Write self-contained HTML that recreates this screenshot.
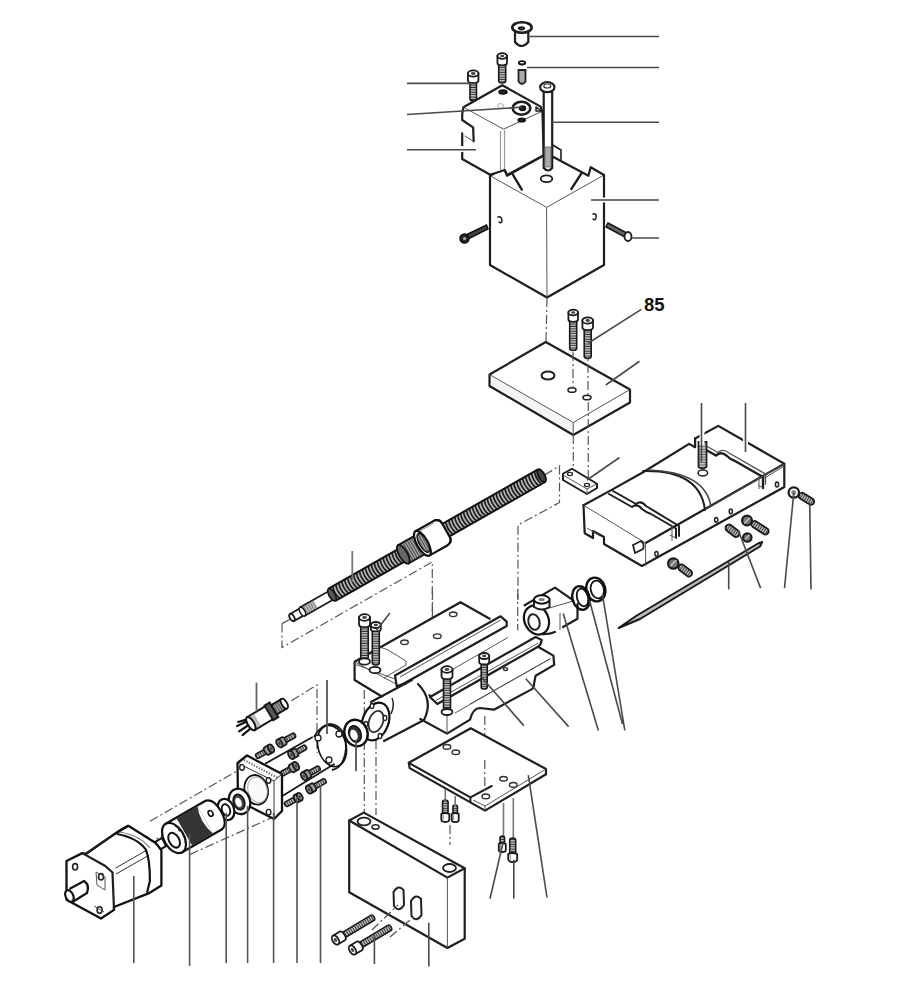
<!DOCTYPE html>
<html><head><meta charset="utf-8">
<style>
html,body{margin:0;padding:0;background:#fff;}
body{width:904px;height:1000px;overflow:hidden;}
svg{display:block;}

.o{fill:#fff;stroke:#1e1e1e;stroke-width:2.2;stroke-linejoin:round;stroke-linecap:round;}
.g{fill:#f1f1f1;stroke:#1e1e1e;stroke-width:2.2;stroke-linejoin:round;stroke-linecap:round;}
.t{fill:none;stroke:#555;stroke-width:1;}
.l{fill:none;stroke:#4a4a4a;stroke-width:1.6;}
.d{fill:none;stroke:#555;stroke-width:1.2;stroke-dasharray:9 3 2 3;}
.k{fill:#333;stroke:#111;stroke-width:1.5;}
text{font-family:"Liberation Sans",sans-serif;font-weight:bold;}
</style></head>
<body>
<svg width="904" height="1000" viewBox="0 0 904 1000">
<!-- ============ TOP ASSEMBLY ============ -->
<g id="top">
  <!-- big block -->
  <path d="M490,175.7 L546.6,207.4 L604,175 L604,265 L547,297.5 L490,265 Z" fill="#fff"/>
  <path class="o" style="fill:none" d="M490,175.7 L490,265 L547,297.5 L604,265 L604,175"/>
  <path class="t" d="M490,175.7 L546.6,207.4 L604,175 M546.6,207.4 L547,297.5"/>
  <path class="o" style="fill:none" d="M490,175.7 L504,168 L507,175.7 L543.5,155.5 M552,156.3 L588.4,175.7 L590.7,167.2 L604,175"/>
  <path class="o" style="fill:none;stroke-width:1.6" d="M551,144 L561,150 L561,159.4"/>
  <path class="o" style="fill:none;stroke-width:2.4" d="M512.5,174 L521.8,189.6 M581.4,173.4 L571.4,188.9"/>
  <ellipse class="o" cx="546.5" cy="178.8" rx="5.8" ry="3.4" style="stroke-width:1.8"/>
  <path class="o" style="stroke-width:1.5" d="M498,217 Q502,216 502,221 Q501,224 499,222"/>
  <path class="o" style="stroke-width:1.5" d="M593,214 Q597,213 596,218 Q595,221 593,219"/>
  <!-- side screws -->
  <path class="k" d="M467,234.5 L486.5,225 L488,229 L469,238.5 Z" style="fill:#444"/>
  <ellipse class="k" cx="464.5" cy="238.5" rx="4.5" ry="4.5" style="fill:#222"/>
  <ellipse cx="464.5" cy="238.5" rx="1.6" ry="1.6" fill="#aaa"/>
  <path class="k" d="M608,223 L626,232.5 L624,236.5 L606,227 Z" style="fill:#666"/>
  <ellipse class="o" cx="628" cy="236.5" rx="3.5" ry="4.5" style="stroke-width:1.8"/>
  <!-- small block -->
  <path d="M502.3,85.3 L540.7,106.6 L542.5,112.7 L543.7,155.3 L507,175 L504.8,170 L490.2,174.8 L462.2,159 L462.2,133.4 L473.7,141.3 L473.1,127.3 L462.2,120 L462.2,114 L463.4,107.2 Z" fill="#fff"/>
  <path class="o" style="fill:none" d="M473.7,141.3 L473.1,127.3 L462.2,120 L462.2,114 L463.4,107.2 L502.3,85.3 L540.7,106.6 L542.5,112.7 L543.7,155.3 L507,175 L504.8,170 L490.2,174.8 L462.2,159 L462.2,133.4"/>
  <path class="t" d="M463.4,107.2 L503.5,129.2 L542.5,111 M473.1,141 L464.6,135.8"/>
  <path class="t" style="stroke:#999;stroke-width:1.2" d="M500.5,131 L500.5,170 M504.5,130 L504.5,169"/>
  <path style="fill:none;stroke:#fff;stroke-width:3" d="M462.2,146 L462.2,152"/>
  <ellipse class="k" cx="503" cy="92" rx="4" ry="1.9" style="fill:#222"/>
  <ellipse class="o" cx="521.5" cy="108.2" rx="8.8" ry="6.5" style="stroke-width:2.6"/>
  <ellipse class="k" cx="522.5" cy="108.3" rx="3" ry="2.3" style="fill:#222"/>
  <ellipse class="k" cx="521.7" cy="120" rx="3.6" ry="1.8" style="fill:#222"/>
  <ellipse cx="500.5" cy="106" rx="3" ry="2.4" fill="none" stroke="#aaa" stroke-width="1"/>
  <path class="o" style="stroke-width:1.5" d="M536,107 L542,111 L536,111 Z"/>
  <!-- long bolt -->
  <path class="o" d="M543.7,92 L543.7,168 Q548,173 552.2,168 L552.2,92 Z"/>
  <path d="M545,147 L551,147 L551,167 L545,167 Z" fill="#aaa" stroke="#666" stroke-width="0.8"/>
  <ellipse class="o" cx="547.3" cy="87.2" rx="7.2" ry="5"/>
  <ellipse cx="547.3" cy="86" rx="3.5" ry="2" fill="none" stroke="#333" stroke-width="1.2"/>
  <!-- cap -->
  <path class="o" d="M515,30 L515,42 Q521.5,50 528.3,42 L528.3,30 Z"/>
  <ellipse class="o" cx="522" cy="27.5" rx="9.7" ry="5.3" style="stroke-width:2.6"/>
  <ellipse class="k" cx="521.5" cy="28.3" rx="2.8" ry="1.4" style="fill:#444"/>
  <!-- top screw -->
  <g transform="translate(502.2,56) rotate(90)"><path d="M6,-3.5 L24.55,-3.5 Q27,-3.5 27,0 Q27,3.5 24.55,3.5 L6,3.5 Z" fill="url(#hs)" stroke="#1a1a1a" stroke-width="1.6"/><path d="M0,-4.75 L7,-4.75 Q9.280000000000001,-4.75 9.280000000000001,0 Q9.280000000000001,4.75 7,4.75 L0,4.75 Z" fill="#fff" stroke="#1a1a1a" stroke-width="1.8"/><ellipse cx="0" cy="0" rx="2.85" ry="4.75" fill="#fff" stroke="#1a1a1a" stroke-width="1.8"/><ellipse cx="0" cy="0" rx="1.2825" ry="2.09" fill="#444"/></g>
  <!-- pin -->
  <path d="M518.5,70 L518.5,81.5 Q522,86.5 525.5,81.5 L525.5,70 Z" fill="#aaa" stroke="#222" stroke-width="1.8"/>
  <ellipse class="k" cx="522" cy="62.8" rx="3.2" ry="1.7" style="fill:#fff;stroke-width:1.8"/>
  <!-- left short screw -->
  <g transform="translate(473.2,73.5) rotate(90)"><path d="M6,-3.25 L25.225,-3.25 Q27.5,-3.25 27.5,0 Q27.5,3.25 25.225,3.25 L6,3.25 Z" fill="url(#hs)" stroke="#1a1a1a" stroke-width="1.6"/><path d="M0,-5.25 L7,-5.25 Q9.52,-5.25 9.52,0 Q9.52,5.25 7,5.25 L0,5.25 Z" fill="#fff" stroke="#1a1a1a" stroke-width="1.8"/><ellipse cx="0" cy="0" rx="3.15" ry="5.25" fill="#fff" stroke="#1a1a1a" stroke-width="1.8"/><ellipse cx="0" cy="0" rx="1.4175" ry="2.31" fill="#444"/></g>
  <!-- leaders -->
  <path d="M600,200 L609,200" stroke="#fff" stroke-width="5"/><path class="l" d="M528,36.5 L659,36.5 M527,67.5 L659,67.5 M552,122.3 L659,122.3 M591,200 L659,200 M632,238 L659,238"/>
  <path class="l" d="M407,83.4 L476,83.4 M407,114.5 L522,107.2 M407,149.8 L476,149.8"/>
  <path class="d" d="M547,298 L546,342"/>
</g>

<g id="plate">
  <path d="M545.75,342 L489.5,374.5 L489.5,386 L573.25,435 L630,402.5 L630,389.5 Z" fill="#fff"/>
  <path d="M489.5,374.5 L573.25,422.5 L573.25,435 L489.5,386 Z" fill="#f4f4f4"/>
  <path class="o" style="fill:none" d="M545.75,342 L489.5,374.5 L489.5,386 L573.25,435 L630,402.5 L630,389.5 Z"/>
  <path class="t" d="M489.5,374.5 L573.25,422.5 L630,389.5 M573.25,422.5 L573.25,435"/>
  <ellipse cx="548" cy="375.5" rx="6.5" ry="4" fill="#fff" stroke="#222" stroke-width="2"/>
  <ellipse cx="572" cy="390" rx="4" ry="2.3" fill="#fff" stroke="#222" stroke-width="1.6"/>
  <ellipse cx="587" cy="397.5" rx="4" ry="2.3" fill="#fff" stroke="#222" stroke-width="1.6"/>
  <path class="d" d="M573,318 L573,388 M588,330 L588,395"/>
  <!-- screws 85 -->
<g transform="translate(573.2,312.5) rotate(90)"><path d="M6,-3.5 L35.55,-3.5 Q38,-3.5 38,0 Q38,3.5 35.55,3.5 L6,3.5 Z" fill="url(#hs)" stroke="#1a1a1a" stroke-width="1.6"/><path d="M0,-4.8 L7,-4.8 Q9.304,-4.8 9.304,0 Q9.304,4.8 7,4.8 L0,4.8 Z" fill="#fff" stroke="#1a1a1a" stroke-width="1.8"/><ellipse cx="0" cy="0" rx="2.88" ry="4.8" fill="#fff" stroke="#1a1a1a" stroke-width="1.8"/><ellipse cx="0" cy="0" rx="1.296" ry="2.112" fill="#444"/></g><g transform="translate(587.7,320.5) rotate(90)"><path d="M6,-3.5 L35.55,-3.5 Q38,-3.5 38,0 Q38,3.5 35.55,3.5 L6,3.5 Z" fill="url(#hs)" stroke="#1a1a1a" stroke-width="1.6"/><path d="M0,-5.3 L7,-5.3 Q9.544,-5.3 9.544,0 Q9.544,5.3 7,5.3 L0,5.3 Z" fill="#fff" stroke="#1a1a1a" stroke-width="1.8"/><ellipse cx="0" cy="0" rx="3.1799999999999997" ry="5.3" fill="#fff" stroke="#1a1a1a" stroke-width="1.8"/><ellipse cx="0" cy="0" rx="1.4309999999999998" ry="2.332" fill="#444"/></g>
  <path class="l" d="M641.3,309.4 L588.1,343.2 M605.75,385 L639.5,361.25"/>
  <text x="644" y="311" font-size="18.5" fill="#111">85</text>
  <!-- small nut block -->
  <path class="d" d="M573.25,435 L573.25,470 M588.25,402 L588.25,484"/>
  <path class="o" d="M563,473.75 L572,468.75 L597,483.75 L597,488 L587,494 L563,480 Z" style="stroke-width:2"/>
  <path class="t" d="M563,475 L587,489 L597,483.75 M587,489 L587,494"/>
  <ellipse cx="570" cy="474" rx="2.5" ry="1.6" fill="#fff" stroke="#222" stroke-width="1.3"/>
  <ellipse cx="587" cy="485" rx="2.5" ry="1.6" fill="#fff" stroke="#222" stroke-width="1.3"/>
  <path class="l" d="M587,480 L619.5,457.5"/>
</g>

<g id="slide">
  <!-- silhouette fill -->
  <path d="M583.5,505.2 L610.3,490.6 L643.1,472.3 L690.6,444.3 L695.5,439.5 L718.6,427.3 L784.3,463.8 L784.3,487 L641.9,566 L584.7,533.2 Z" fill="#fff"/>
  <!-- front slab top face -->
  <path class="o" style="fill:none" d="M583.5,505.2 L584.7,533.2 L593,538 L593,531 L604,537 L604,544 L641.9,566 L784.3,487 L784.3,463.8 L718.3,425.9 L695.1,438.5"/>
  <path class="o" style="fill:none" d="M583.5,505.2 L610.3,490.6 L643.1,472.3 L689.1,443.9 L695.1,447.2 L695.1,438.5 M645.6,543 L784.3,463.8"/>
  <path class="t" d="M583.5,505.2 L645.6,543 L645.6,566 M600,536 L587,528"/>
  <!-- front groove -->
  <path class="o" style="fill:none;stroke-width:2" d="M609,494 L632,507 Q637,503 642,509 Q647,513 651,514 L676,528.5 L676,538 M613,491 L636,504 Q641,500 646,506 L679,526 L679,536"/>
  <path class="t" d="M672,526 L672,541 M676,538 L670,535"/>
  <!-- back groove -->
  <path class="o" style="fill:none;stroke-width:2.4" d="M699,446 L716,455.5 Q721,451 727,456 Q731,460 735,461 L763,477 L763,488"/>
  <path class="o" style="fill:none;stroke-width:1.4;stroke:#555" d="M701,443 L718,452.5 Q723,448 729,453 L765.5,474 L765.5,484"/>
  <path class="t" d="M759,476 L759,489 M763,488 L758,485 M763,479 L784.3,466"/>
  <!-- saddle arc -->
  <path class="o" style="fill:none;stroke-width:2" d="M643.1,471.1 Q700,470 705,510"/>
  <path class="t" style="stroke-width:1.6;stroke:#444" d="M648,470 Q706,472 711,507"/>
  <path class="t" d="M705,510 L784.3,463.8"/>
  <!-- bolt on top -->
  <path d="M698.5,442 L698.5,467 Q702.5,470 706.5,467 L706.5,442 Z" fill="url(#hatch)" stroke="#222" stroke-width="1.8"/>
  <ellipse cx="702.8" cy="473" rx="4.8" ry="3" fill="#fff" stroke="#222" stroke-width="1.6"/>
  <!-- holes -->
  <g fill="#fff" stroke="#222" stroke-width="1.5">
    <ellipse cx="656.5" cy="553.8" rx="1.6" ry="2.4"/>
    <ellipse cx="716.2" cy="519.8" rx="1.6" ry="2.4"/>
    <ellipse cx="730.8" cy="511.3" rx="1.6" ry="2.4"/>
    <ellipse cx="777" cy="484.5" rx="1.6" ry="2.4"/>
  </g>
  <!-- pin on left face -->
  <path d="M633,545 L641,541 Q645,544 643,549 L635,553 Z" fill="#fff" stroke="#222" stroke-width="1.8"/>
  <!-- screws -->
<g transform="translate(755,524.5) rotate(33.0)"><rect x="-3.75" y="-3.25" width="19.4" height="6.5" rx="3.25" fill="url(#hs)" stroke="#1a1a1a" stroke-width="1.8"/></g>
<circle cx="747" cy="520.6" r="4.9" fill="#777" stroke="#1a1a1a" stroke-width="2.2"/><path d="M744.2,523.4 L749.8,517.8000000000001" stroke="#ccc" stroke-width="1.2"/>
<g transform="translate(729,528) rotate(38.2)"><rect x="-3.5" y="-3.5" width="15.9" height="7" rx="3.5" fill="url(#hs)" stroke="#1a1a1a" stroke-width="1.8"/></g>
<circle cx="747.3" cy="537.5" r="4.2" fill="#777" stroke="#1a1a1a" stroke-width="2.2"/><path d="M745.0,539.3 L749.5999999999999,534.7" stroke="#ccc" stroke-width="1.2"/>
<g transform="translate(682,568) rotate(37.6)"><rect x="-3.75" y="-3.25" width="15.7" height="6.5" rx="3.25" fill="url(#hs)" stroke="#1a1a1a" stroke-width="1.8"/></g>
<circle cx="673.3" cy="563.5" r="5.2" fill="#777" stroke="#1a1a1a" stroke-width="2.2"/><path d="M670.3,566.0 L676.3,560.0" stroke="#ccc" stroke-width="1.2"/>
<g transform="translate(802,496) rotate(31.4)"><rect x="-3.25" y="-3.25" width="17.0" height="6.5" rx="3.25" fill="url(#hs)" stroke="#1a1a1a" stroke-width="1.8"/></g>
<circle cx="793.8" cy="492.5" r="5.2" fill="#fff" stroke="#1a1a1a" stroke-width="2.2"/><circle cx="793.8" cy="492.5" r="2.5" fill="#888"/>
  <!-- long pin -->
  <path d="M618.6,628 L636,616 L758,543.5 L762.2,542 L760,546.5 L640,619 Z" fill="#bbb" stroke="#1a1a1a" stroke-width="2" stroke-linejoin="round"/>
  <!-- leaders -->
  <path d="M702,432 L702,445 M745.5,436 L745.5,448" stroke="#fff" stroke-width="5"/><path class="l" d="M701.5,403 L701.5,462 M745.5,403 L745.5,452 M728.7,561.6 L728.7,589.5 M738,529.7 L760.6,588.1 M793.8,492.6 L784.5,588.1 M809.7,503.2 L811,589.5"/>
</g>

<defs>
  <pattern id="thr" patternUnits="userSpaceOnUse" width="3.2" height="20" patternTransform="rotate(8)">
    <rect width="3.2" height="20" fill="#2a2a2a"/>
    <rect x="2" width="1.2" height="20" fill="#9a9a9a"/>
  </pattern>
  <pattern id="knurl" patternUnits="userSpaceOnUse" width="2.5" height="30">
    <rect width="2.5" height="30" fill="#555"/>
    <rect x="1.5" width="1" height="30" fill="#bbb"/>
  </pattern>
  <pattern id="hs" patternUnits="userSpaceOnUse" width="2.4" height="10">
    <rect width="2.4" height="10" fill="#c4c4c4"/>
    <rect x="1.4" width="1" height="10" fill="#333"/>
  </pattern>
  <pattern id="hs2" patternUnits="userSpaceOnUse" width="10" height="2.4">
    <rect width="10" height="2.4" fill="#c4c4c4"/>
    <rect y="1.4" width="10" height="1" fill="#333"/>
  </pattern>
  <pattern id="hatch" patternUnits="userSpaceOnUse" width="6" height="2.6">
    <rect width="6" height="2.6" fill="#c8c8c8"/>
    <rect y="1.6" width="6" height="1" fill="#666"/>
  </pattern>
</defs>
<g id="leadscrew">
  <path class="d" d="M282,623.6 L282,647.5 L432.3,561.9 L432.3,700 M282,623.6 L291,618.7"/>
  <path class="d" d="M544.5,475 L559.5,466 L559.5,502.5 L518,525 L518,600"/>
  <g transform="translate(292,617.5) rotate(-29.6)">
    <rect x="0" y="-4" width="12" height="8" fill="#fff" stroke="#1a1a1a" stroke-width="1.8"/>
    <ellipse cx="0" cy="0" rx="2.2" ry="4" fill="#fff" stroke="#1a1a1a" stroke-width="1.8"/>
    <rect x="12" y="-4.8" width="36" height="9.6" fill="#fff" stroke="#1a1a1a" stroke-width="1.8"/>
    <rect x="14" y="-4" width="13" height="8" fill="url(#knurl)" opacity="0.7"/>
    <ellipse cx="12" cy="0" rx="2.4" ry="4.8" fill="#fff" stroke="#1a1a1a" stroke-width="1.5"/>
    <rect x="46" y="-7" width="84" height="14" fill="#b8b8b8"/><path d="M47.5,-7 Q44.9,0 47.5,7 M50.9,-7 Q48.3,0 50.9,7 M54.3,-7 Q51.7,0 54.3,7 M57.7,-7 Q55.1,0 57.7,7 M61.1,-7 Q58.5,0 61.1,7 M64.5,-7 Q61.9,0 64.5,7 M67.9,-7 Q65.3,0 67.9,7 M71.3,-7 Q68.7,0 71.3,7 M74.7,-7 Q72.1,0 74.7,7 M78.1,-7 Q75.5,0 78.1,7 M81.5,-7 Q78.9,0 81.5,7 M84.9,-7 Q82.3,0 84.9,7 M88.3,-7 Q85.7,0 88.3,7 M91.7,-7 Q89.1,0 91.7,7 M95.1,-7 Q92.5,0 95.1,7 M98.5,-7 Q95.9,0 98.5,7 M101.9,-7 Q99.3,0 101.9,7 M105.3,-7 Q102.7,0 105.3,7 M108.7,-7 Q106.1,0 108.7,7 M112.1,-7 Q109.5,0 112.1,7 M115.5,-7 Q112.9,0 115.5,7 M118.9,-7 Q116.3,0 118.9,7 M122.3,-7 Q119.7,0 122.3,7 M125.7,-7 Q123.1,0 125.7,7 M129.1,-7 Q126.5,0 129.1,7 " fill="none" stroke="#1e1e1e" stroke-width="1.7"/><path d="M46,-7 L130,-7 M46,7 L130,7" stroke="#111" stroke-width="2"/>
    <ellipse cx="46" cy="0" rx="3" ry="7" fill="#555" stroke="#111" stroke-width="1.6"/>
    <rect x="128" y="-10.5" width="24" height="21" fill="url(#knurl)" stroke="#111" stroke-width="1.8"/>
    <ellipse cx="128" cy="0" rx="4.2" ry="10.5" fill="#666" stroke="#111" stroke-width="1.8"/>
    <path d="M150,-14 L170,-14 Q177,-14 177,-7 L177,7 Q177,14 170,14 L150,14 Z" fill="#fff" stroke="#111" stroke-width="2.2"/>
    <ellipse cx="150" cy="0" rx="5.5" ry="14" fill="#fff" stroke="#111" stroke-width="2.2"/>
    <ellipse cx="151" cy="0" rx="4" ry="10.5" fill="url(#knurl)" stroke="#111" stroke-width="1.4"/>
    <path d="M154,-12 L170,-12" stroke="#999" stroke-width="1"/>
    <rect x="176" y="-7.2" width="111" height="14.4" fill="#b8b8b8"/><path d="M177.5,-7.2 Q174.9,0 177.5,7.2 M180.9,-7.2 Q178.3,0 180.9,7.2 M184.3,-7.2 Q181.7,0 184.3,7.2 M187.7,-7.2 Q185.1,0 187.7,7.2 M191.1,-7.2 Q188.5,0 191.1,7.2 M194.5,-7.2 Q191.9,0 194.5,7.2 M197.9,-7.2 Q195.3,0 197.9,7.2 M201.3,-7.2 Q198.7,0 201.3,7.2 M204.7,-7.2 Q202.1,0 204.7,7.2 M208.1,-7.2 Q205.5,0 208.1,7.2 M211.5,-7.2 Q208.9,0 211.5,7.2 M214.9,-7.2 Q212.3,0 214.9,7.2 M218.3,-7.2 Q215.7,0 218.3,7.2 M221.7,-7.2 Q219.1,0 221.7,7.2 M225.1,-7.2 Q222.5,0 225.1,7.2 M228.5,-7.2 Q225.9,0 228.5,7.2 M231.9,-7.2 Q229.3,0 231.9,7.2 M235.3,-7.2 Q232.7,0 235.3,7.2 M238.7,-7.2 Q236.1,0 238.7,7.2 M242.1,-7.2 Q239.5,0 242.1,7.2 M245.5,-7.2 Q242.9,0 245.5,7.2 M248.9,-7.2 Q246.3,0 248.9,7.2 M252.3,-7.2 Q249.7,0 252.3,7.2 M255.7,-7.2 Q253.1,0 255.7,7.2 M259.1,-7.2 Q256.5,0 259.1,7.2 M262.5,-7.2 Q259.9,0 262.5,7.2 M265.9,-7.2 Q263.3,0 265.9,7.2 M269.3,-7.2 Q266.7,0 269.3,7.2 M272.7,-7.2 Q270.1,0 272.7,7.2 M276.1,-7.2 Q273.5,0 276.1,7.2 M279.5,-7.2 Q276.9,0 279.5,7.2 M282.9,-7.2 Q280.3,0 282.9,7.2 M286.3,-7.2 Q283.7,0 286.3,7.2 " fill="none" stroke="#1e1e1e" stroke-width="1.7"/><path d="M176,-7.2 L287,-7.2 M176,7.2 L287,7.2" stroke="#111" stroke-width="2"/>
    <ellipse cx="287" cy="0" rx="3.2" ry="7.2" fill="#444" stroke="#111" stroke-width="1.8"/>
    <path d="M170,-14 Q177,-14 177,-7 L177,7 Q177,14 170,14" fill="#fff" stroke="#111" stroke-width="2.2"/>
  </g>
  <path class="l" style="stroke:#777;stroke-width:1.8" d="M352.3,551 L352.3,582"/>
</g>

<g id="base">
  <path class="d" d="M432.5,590 L432.5,726 M517.7,590 L517.7,640 M364.3,690 L364.3,820 M484.8,716 L484.8,800 M376,740 L376,815"/>
  <!-- block silhouette fill -->
  <path d="M460.5,602.2 L354.6,661.8 L354.6,680 L382.6,697 L420.3,719 L447,733.6 L470,719.6 L493.9,709.7 L531,689.6 L534.1,683.4 L535.6,675.7 L554.2,664.9 L553.4,655.6 L538,646.7 L506.7,621.6 L500.6,616.3 L489.7,618.7 Z" fill="#fff"/>
  <path class="o" style="fill:none" d="M489.7,618.7 L460.5,602.2 L354.6,661.8 L354.6,680 L382.6,697"/>
  <path class="o" style="fill:none" d="M420.3,719 L447,733.6 L470,719.6 Q473,708 480,708 L493.9,709.7 L531,689.6 Q534.1,688 534.1,683.4 L535.6,675.7 L554.2,664.9 L553.4,655.6 L538,646.7"/>
  <path class="t" d="M354.6,661.8 L396,684 M447,733.6 L447,700"/>
  <!-- rail 1 -->
  <path class="o" style="fill:#fff" d="M395,675.5 L500.6,616.3 L506.7,621.6 L506.7,626 L403.5,683.8 L396.8,686.3 Z"/>
  <path class="t" d="M500.6,620 L400,677"/>
  <path class="o" style="fill:none;stroke-width:2" d="M403.5,683.8 L435.2,698"/>
  <path class="t" d="M381,647.3 L388,650 L406,661 L406,665 L384,678 M353.7,663.8 L395,679"/>
  <!-- rail 2 -->
  <path class="o" style="fill:#fff;stroke-width:2.2" d="M430,697 L535.6,637 L541.8,640 L540.3,644.7 L538,646.7 L437.3,704 Z"/>
  <path class="t" d="M507.9,637.5 L447,672.7 M538,643.2 L436,700.5 M550.3,658.7 L455,713 M550.3,658.7 L470,704"/>
  <!-- holes -->
  <g fill="#fff" stroke="#333" stroke-width="1.4">
    <ellipse cx="404.5" cy="642.3" rx="3.8" ry="2.3"/>
    <ellipse cx="437.3" cy="636.2" rx="3.8" ry="2.3"/>
    <ellipse cx="453.2" cy="614.3" rx="3.8" ry="2.3"/>
    <ellipse cx="505.5" cy="669.1" rx="2" ry="1.5"/>
  </g>
  
  <!-- bearing cylinder -->
  <path d="M374,702 L416,679 Q432,685 428,707 L387,740 Z" fill="#fff"/>
  <path class="o" style="fill:none" d="M371,702 L412,680 M384,741 L424,720 Q434,700 418,684"/>
  <ellipse cx="375.5" cy="721.5" rx="13" ry="19.5" fill="#fff" stroke="#111" stroke-width="2.2" transform="rotate(20 375.5 721.5)"/>
  <ellipse cx="376" cy="721.5" rx="7" ry="11" fill="#fff" stroke="#333" stroke-width="1.8" transform="rotate(20 376 721.5)"/>
  <g fill="#fff" stroke="#222" stroke-width="1.3">
    <ellipse cx="372" cy="706" rx="1.8" ry="2.5"/><ellipse cx="385" cy="718" rx="1.8" ry="2.5"/>
    <ellipse cx="380" cy="736" rx="1.8" ry="2.5"/><ellipse cx="366" cy="724" rx="1.8" ry="2.5"/>
  </g>
  <path class="t" style="stroke-width:1.4;stroke:#222" d="M391,714 Q395,705 392,698"/>
  <!-- screws on base -->
  <g><g transform="translate(364.5,617.5) rotate(90)"><path d="M6,-3.75 L39.375,-3.75 Q42,-3.75 42,0 Q42,3.75 39.375,3.75 L6,3.75 Z" fill="url(#hs)" stroke="#1a1a1a" stroke-width="1.6"/><path d="M0,-5.5 L7,-5.5 Q9.64,-5.5 9.64,0 Q9.64,5.5 7,5.5 L0,5.5 Z" fill="#fff" stroke="#1a1a1a" stroke-width="1.8"/><ellipse cx="0" cy="0" rx="3.3" ry="5.5" fill="#fff" stroke="#1a1a1a" stroke-width="1.8"/><ellipse cx="0" cy="0" rx="1.4849999999999999" ry="2.42" fill="#444"/></g>
<ellipse cx="364.5" cy="661.5" rx="5.5" ry="3.2" fill="#fff" stroke="#1a1a1a" stroke-width="1.8"/>
<ellipse cx="375" cy="670" rx="5.5" ry="3.2" fill="#fff" stroke="#1a1a1a" stroke-width="1.8"/>
<g transform="translate(375.8,625) rotate(90)"><path d="M3,-3.5 L37.55,-3.5 Q40,-3.5 40,0 Q40,3.5 37.55,3.5 L3,3.5 Z" fill="url(#hs)" stroke="#1a1a1a" stroke-width="1.6"/><path d="M0,-5.0 L4,-5.0 Q6.4,-5.0 6.4,0 Q6.4,5.0 4,5.0 L0,5.0 Z" fill="#fff" stroke="#1a1a1a" stroke-width="1.8"/><ellipse cx="0" cy="0" rx="3.0" ry="5.0" fill="#fff" stroke="#1a1a1a" stroke-width="1.8"/><ellipse cx="0" cy="0" rx="1.35" ry="2.2" fill="#444"/></g>
<g transform="translate(447,669.5) rotate(90)"><path d="M6,-3.5 L40.55,-3.5 Q43,-3.5 43,0 Q43,3.5 40.55,3.5 L6,3.5 Z" fill="url(#hs)" stroke="#1a1a1a" stroke-width="1.6"/><path d="M0,-5.5 L7,-5.5 Q9.64,-5.5 9.64,0 Q9.64,5.5 7,5.5 L0,5.5 Z" fill="#fff" stroke="#1a1a1a" stroke-width="1.8"/><ellipse cx="0" cy="0" rx="3.3" ry="5.5" fill="#fff" stroke="#1a1a1a" stroke-width="1.8"/><ellipse cx="0" cy="0" rx="1.4849999999999999" ry="2.42" fill="#444"/></g>
<ellipse cx="447" cy="712" rx="5.5" ry="3" fill="#fff" stroke="#1a1a1a" stroke-width="1.8"/>
<g transform="translate(484.2,656) rotate(90)"><path d="M5,-3.0 L30.9,-3.0 Q33,-3.0 33,0 Q33,3.0 30.9,3.0 L5,3.0 Z" fill="url(#hs)" stroke="#1a1a1a" stroke-width="1.6"/><path d="M0,-5.0 L6,-5.0 Q8.4,-5.0 8.4,0 Q8.4,5.0 6,5.0 L0,5.0 Z" fill="#fff" stroke="#1a1a1a" stroke-width="1.8"/><ellipse cx="0" cy="0" rx="3.0" ry="5.0" fill="#fff" stroke="#1a1a1a" stroke-width="1.8"/><ellipse cx="0" cy="0" rx="1.35" ry="2.2" fill="#444"/></g></g>
  <path class="l" d="M389.9,613.1 L376.5,630.2 M482,677.8 L523.8,725.6 M525.8,678.8 L568.6,726.6"/>
</g>

<g id="clamp">
  <path d="M524.6,605.3 L555,587.6 L573.3,600.4 L577.5,605 L577.5,618.7 L563.5,627.2 L545,634 Q530,636 524,622 Z" fill="#fff"/>
  <path class="o" style="fill:none" d="M524.6,605.3 L555,587.6 L573.3,600.4 M577.5,604 L577.5,618.7 L563,627 M555,632 Q548,635 540,634"/>
  <ellipse cx="536.5" cy="620" rx="12" ry="15" fill="#fff" stroke="#111" stroke-width="2.2" transform="rotate(-25 536.5 620)"/>
  <ellipse cx="534" cy="622" rx="5.5" ry="8" fill="#fff" stroke="#222" stroke-width="2" transform="rotate(-15 534 622)"/>
  <path class="t" d="M546,609 L573.3,601 M560,613 L560,630"/>
  <path class="o" style="stroke-width:2" d="M534,600 L534,607 Q541.5,612 549.5,607 L549.5,600 Z"/>
  <ellipse cx="541.7" cy="599.5" rx="7.8" ry="4.2" fill="#fff" stroke="#111" stroke-width="2"/>
  <ellipse cx="541.7" cy="599.5" rx="3" ry="1.5" fill="#777"/>
  <ellipse cx="581" cy="598" rx="8.5" ry="12" fill="none" stroke="#111" stroke-width="2.4" transform="rotate(-15 581 598)"/>
  <ellipse cx="582.5" cy="597.5" rx="5.5" ry="9" fill="none" stroke="#111" stroke-width="1.8" transform="rotate(-15 582.5 597.5)"/>
  <ellipse cx="595.8" cy="589.5" rx="9.5" ry="12" fill="none" stroke="#111" stroke-width="2.4" transform="rotate(-15 595.8 589.5)"/>
  <ellipse cx="597.3" cy="589.5" rx="6.5" ry="9" fill="none" stroke="#111" stroke-width="1.8" transform="rotate(-15 597.3 589.5)"/>
  <path class="l" d="M563.2,613.6 L598.4,730.4 M589.6,600.8 L622.5,724 M602.4,594.4 L624.8,730.4"/>
</g>
<g id="plate2">
  <path d="M408.8,762.8 L470.8,728.3 L546,769 L546,774.3 L485,810.6 L409.7,768.1 Z" fill="#fff"/>
  <path class="o" style="fill:none" d="M408.8,762.8 L470.8,728.3 L546,769 L546,774.3 L485,810.6 L409.7,768.1 Z"/>
  <path class="o" style="fill:none;stroke-width:2" d="M408.8,762.8 L470.4,797.3 L470.4,801.5 M470.4,797.3 L491.7,786"/><path class="t" d="M473,800 L485,806 L546,769 M485,806 L485,810.6"/>
  <g fill="#fff" stroke="#333" stroke-width="1.5">
    <ellipse cx="446.9" cy="746.9" rx="3.8" ry="2.3"/>
    <ellipse cx="455.8" cy="752.2" rx="3.8" ry="2.3"/>
    <ellipse cx="503.5" cy="778.7" rx="3.8" ry="2.3"/>
    <ellipse cx="513.3" cy="784.9" rx="3.8" ry="2.3"/>
    <ellipse cx="485.8" cy="796.4" rx="3.8" ry="2.3"/>
  </g>
  <path class="d" d="M484.8,760 L484.8,792"/>
  <path d="M442.55,815 L442.55,802.2 Q442.55,800 445.3,800 Q448.05,800 448.05,802.2 L448.05,815 Z" fill="url(#hs2)" stroke="#1a1a1a" stroke-width="1.6"/><path d="M441.3,814 L441.3,819.6 Q441.3,822 445.3,822 Q449.3,822 449.3,819.6 L449.3,814 Q445.3,812 441.3,814 Z" fill="#fff" stroke="#1a1a1a" stroke-width="1.8"/><path d="M443.3,815 L443.3,820" stroke="#888" stroke-width="1"/><path d="M452.95,815 L452.95,806.8 Q452.95,805 455.2,805 Q457.45,805 457.45,806.8 L457.45,815 Z" fill="url(#hs2)" stroke="#1a1a1a" stroke-width="1.6"/><path d="M451.7,814 L451.7,819.9 Q451.7,822 455.2,822 Q458.7,822 458.7,819.9 L458.7,814 Q455.2,812 451.7,814 Z" fill="#fff" stroke="#1a1a1a" stroke-width="1.8"/><path d="M453.45,815 L453.45,820" stroke="#888" stroke-width="1"/>
  <path class="l" style="stroke:#777" d="M445.3,789 L445.3,801 M455.2,796 L455.2,806 M503.5,803 L503.5,838 M513.3,798 L513.3,840"/>
  <path class="d" d="M450,825 L450,845"/>
  <path class="l" d="M528.3,775.2 L547,897.5"/>
  <path d="M500.05,845 L500.05,837.8 Q500.05,836 502.3,836 Q504.55,836 504.55,837.8 L504.55,845 Z" fill="url(#hs2)" stroke="#1a1a1a" stroke-width="1.6"/><path d="M498.8,844 L498.8,849.9 Q498.8,852 502.3,852 Q505.8,852 505.8,849.9 L505.8,844 Q502.3,842 498.8,844 Z" fill="#fff" stroke="#1a1a1a" stroke-width="1.8"/><path d="M500.55,845 L500.55,850" stroke="#888" stroke-width="1"/><path d="M509.70000000000005,855 L509.70000000000005,840.4 Q509.70000000000005,838 512.7,838 Q515.7,838 515.7,840.4 L515.7,855 Z" fill="url(#hs2)" stroke="#1a1a1a" stroke-width="1.6"/><path d="M508.20000000000005,854 L508.20000000000005,859.3 Q508.20000000000005,862 512.7,862 Q517.2,862 517.2,859.3 L517.2,854 Q512.7,852 508.20000000000005,854 Z" fill="#fff" stroke="#1a1a1a" stroke-width="1.8"/><path d="M510.45000000000005,855 L510.45000000000005,860" stroke="#888" stroke-width="1"/>
  <path class="l" d="M503,843 L490,898.8 M513.8,860 L513.8,898.8"/>
</g>
<g id="block2">
  <path d="M349.2,820.5 L363.8,812.6 L464.7,868.3 L464.7,938.7 L447.4,948 L349.2,892.2 Z" fill="#fff"/>
  <path class="o" style="fill:none" d="M349.2,820.5 L363.8,812.6 L464.7,868.3 L464.7,938.7 L447.4,948 L349.2,892.2 Z"/>
  <path class="o" style="fill:none" d="M349.2,820.5 L447.4,877.6 L464.7,868.3"/>
  <path class="t" d="M447.4,877.6 L447.4,948"/>
  <ellipse cx="364" cy="821.5" rx="6.5" ry="3.8" fill="#fff" stroke="#222" stroke-width="1.8"/>
  <ellipse cx="375.5" cy="827" rx="3.5" ry="2.2" fill="#fff" stroke="#222" stroke-width="1.5"/>
  <ellipse cx="449.5" cy="868" rx="6.5" ry="4" fill="#fff" stroke="#222" stroke-width="1.8"/>
  <path d="M393.5,892 Q398.5,884 403.5,890 L404,905 Q399,913 394,906 Z" fill="#fff" stroke="#222" stroke-width="2"/>
  <path d="M411,901 Q416,893 421,899 L421.5,915 Q416.5,923 411.5,916 Z" fill="#fff" stroke="#222" stroke-width="2"/>
  <path class="d" d="M372,930 L398,905 M390,937 L416,915"/>
  <g transform="translate(335.5,940) rotate(-31)"><path d="M7,-3.0 L42.9,-3.0 Q45,-3.0 45,0 Q45,3.0 42.9,3.0 L7,3.0 Z" fill="url(#hs)" stroke="#1a1a1a" stroke-width="1.6"/><path d="M0,-5.0 L8,-5.0 Q10.4,-5.0 10.4,0 Q10.4,5.0 8,5.0 L0,5.0 Z" fill="#fff" stroke="#1a1a1a" stroke-width="1.8"/><ellipse cx="0" cy="0" rx="3.0" ry="5.0" fill="#fff" stroke="#1a1a1a" stroke-width="1.8"/><ellipse cx="0" cy="0" rx="1.35" ry="2.2" fill="#444"/></g>
<g transform="translate(352.5,950) rotate(-31)"><path d="M7,-3.0 L42.9,-3.0 Q45,-3.0 45,0 Q45,3.0 42.9,3.0 L7,3.0 Z" fill="url(#hs)" stroke="#1a1a1a" stroke-width="1.6"/><path d="M0,-5.0 L8,-5.0 Q10.4,-5.0 10.4,0 Q10.4,5.0 8,5.0 L0,5.0 Z" fill="#fff" stroke="#1a1a1a" stroke-width="1.8"/><ellipse cx="0" cy="0" rx="3.0" ry="5.0" fill="#fff" stroke="#1a1a1a" stroke-width="1.8"/><ellipse cx="0" cy="0" rx="1.35" ry="2.2" fill="#444"/></g>
<path class="l" d="M374.4,934.7 L374.4,964 M428.8,922.7 L428.8,966.5"/>
</g>

<g id="leftparts">
  <!-- dash lines -->
  <path class="d" d="M291.4,700.7 L317,685 L317,753 M150,821.3 L236.3,771.5 M189.8,854.5 L271,818 M146,845 L165,834 M120,850 L150,835"/>
  <!-- connector -->
  <g transform="translate(262,717) rotate(-31)">
    <rect x="-13" y="-7.5" width="23" height="15" fill="#fff" stroke="#111" stroke-width="2"/>
    <rect x="-11" y="-7" width="6" height="14" fill="url(#knurl)" opacity="0.5"/>
    <ellipse cx="-13" cy="0" rx="3.2" ry="7.5" fill="#fff" stroke="#111" stroke-width="2"/>
    <rect x="8" y="-8.5" width="6" height="17" fill="#555" stroke="#111" stroke-width="1.8"/>
    <rect x="14" y="-5.5" width="12" height="11" fill="url(#knurl)" stroke="#111" stroke-width="1.8"/>
    <ellipse cx="26" cy="0" rx="2.6" ry="5.5" fill="#fff" stroke="#111" stroke-width="1.8"/>
    <path d="M-16,-4 L-26,-5 M-16,0 L-27,0.5 M-16,4 L-26,5.5 M-15,-6 L-23,-8" stroke="#111" stroke-width="2.2" stroke-linecap="round"/>
  </g>
  <path class="l" style="stroke:#666;stroke-width:1.8" d="M256.5,682.5 L256.5,711.5"/>
  <!-- housing tube -->
  <path class="t" style="stroke:#1a1a1a;stroke-width:1.8" d="M265,763.8 L312.7,737 M282.8,795.7 L334.6,763.8 M314,737 Q320,726 330,724 Q346,726 346,748 Q344,768 332,770"/>
  <ellipse cx="332" cy="746" rx="14" ry="21" fill="none" stroke="#111" stroke-width="1.6" transform="rotate(-15 332 746)"/>
  <g fill="#fff" stroke="#222" stroke-width="1.3">
    <ellipse cx="318" cy="738" rx="3" ry="3"/><ellipse cx="329" cy="760" rx="3" ry="3"/>
    <ellipse cx="339" cy="734" rx="3" ry="3"/>
  </g>
  <!-- screws -->
  <g><g transform="translate(279.4,743.4) rotate(-29)"><path d="M4,-2.5 L16.25,-2.5 Q18,-2.5 18,0 Q18,2.5 16.25,2.5 L4,2.5 Z" fill="url(#hs)" stroke="#1a1a1a" stroke-width="1.6"/><path d="M0,-4.25 L5,-4.25 Q7.04,-4.25 7.04,0 Q7.04,4.25 5,4.25 L0,4.25 Z" fill="#9a9a9a" stroke="#1a1a1a" stroke-width="1.8"/><ellipse cx="0" cy="0" rx="2.55" ry="4.25" fill="#9a9a9a" stroke="#1a1a1a" stroke-width="1.8"/><ellipse cx="0" cy="0" rx="1.1475" ry="1.87" fill="#444"/></g>
<g transform="translate(271,748.5) rotate(151)"><path d="M4,-2.5 L15.25,-2.5 Q17,-2.5 17,0 Q17,2.5 15.25,2.5 L4,2.5 Z" fill="url(#hs)" stroke="#1a1a1a" stroke-width="1.6"/><path d="M0,-4.25 L5,-4.25 Q7.04,-4.25 7.04,0 Q7.04,4.25 5,4.25 L0,4.25 Z" fill="#9a9a9a" stroke="#1a1a1a" stroke-width="1.8"/><ellipse cx="0" cy="0" rx="2.55" ry="4.25" fill="#9a9a9a" stroke="#1a1a1a" stroke-width="1.8"/><ellipse cx="0" cy="0" rx="1.1475" ry="1.87" fill="#444"/></g>
<g transform="translate(291.2,755) rotate(-29)"><path d="M4,-2.5 L15.25,-2.5 Q17,-2.5 17,0 Q17,2.5 15.25,2.5 L4,2.5 Z" fill="url(#hs)" stroke="#1a1a1a" stroke-width="1.6"/><path d="M0,-4.25 L5,-4.25 Q7.04,-4.25 7.04,0 Q7.04,4.25 5,4.25 L0,4.25 Z" fill="#9a9a9a" stroke="#1a1a1a" stroke-width="1.8"/><ellipse cx="0" cy="0" rx="2.55" ry="4.25" fill="#9a9a9a" stroke="#1a1a1a" stroke-width="1.8"/><ellipse cx="0" cy="0" rx="1.1475" ry="1.87" fill="#444"/></g>
<g transform="translate(296,766) rotate(151)"><path d="M4,-2.5 L15.25,-2.5 Q17,-2.5 17,0 Q17,2.5 15.25,2.5 L4,2.5 Z" fill="url(#hs)" stroke="#1a1a1a" stroke-width="1.6"/><path d="M0,-4.25 L5,-4.25 Q7.04,-4.25 7.04,0 Q7.04,4.25 5,4.25 L0,4.25 Z" fill="#9a9a9a" stroke="#1a1a1a" stroke-width="1.8"/><ellipse cx="0" cy="0" rx="2.55" ry="4.25" fill="#9a9a9a" stroke="#1a1a1a" stroke-width="1.8"/><ellipse cx="0" cy="0" rx="1.1475" ry="1.87" fill="#444"/></g>
<g transform="translate(304,776.3) rotate(-29)"><path d="M4,-2.5 L16.25,-2.5 Q18,-2.5 18,0 Q18,2.5 16.25,2.5 L4,2.5 Z" fill="url(#hs)" stroke="#1a1a1a" stroke-width="1.6"/><path d="M0,-4.25 L5,-4.25 Q7.04,-4.25 7.04,0 Q7.04,4.25 5,4.25 L0,4.25 Z" fill="#9a9a9a" stroke="#1a1a1a" stroke-width="1.8"/><ellipse cx="0" cy="0" rx="2.55" ry="4.25" fill="#9a9a9a" stroke="#1a1a1a" stroke-width="1.8"/><ellipse cx="0" cy="0" rx="1.1475" ry="1.87" fill="#444"/></g>
<g transform="translate(309,789.6) rotate(-29)"><path d="M4,-2.5 L17.25,-2.5 Q19,-2.5 19,0 Q19,2.5 17.25,2.5 L4,2.5 Z" fill="url(#hs)" stroke="#1a1a1a" stroke-width="1.6"/><path d="M0,-4.25 L5,-4.25 Q7.04,-4.25 7.04,0 Q7.04,4.25 5,4.25 L0,4.25 Z" fill="#9a9a9a" stroke="#1a1a1a" stroke-width="1.8"/><ellipse cx="0" cy="0" rx="2.55" ry="4.25" fill="#9a9a9a" stroke="#1a1a1a" stroke-width="1.8"/><ellipse cx="0" cy="0" rx="1.1475" ry="1.87" fill="#444"/></g>
<g transform="translate(299.8,796.7) rotate(151)"><path d="M3,-2.5 L15.25,-2.5 Q17,-2.5 17,0 Q17,2.5 15.25,2.5 L3,2.5 Z" fill="url(#hs)" stroke="#1a1a1a" stroke-width="1.6"/><path d="M0,-4.0 L4,-4.0 Q5.92,-4.0 5.92,0 Q5.92,4.0 4,4.0 L0,4.0 Z" fill="#9a9a9a" stroke="#1a1a1a" stroke-width="1.8"/><ellipse cx="0" cy="0" rx="2.4" ry="4.0" fill="#9a9a9a" stroke="#1a1a1a" stroke-width="1.8"/><ellipse cx="0" cy="0" rx="1.08" ry="1.76" fill="#444"/></g></g>
  <!-- bearing ring -->
  <ellipse cx="356" cy="733" rx="11.5" ry="13.5" fill="#fff" stroke="#111" stroke-width="2.4" transform="rotate(-20 356 733)"/>
  <ellipse cx="355" cy="734" rx="6" ry="8.5" fill="#333" stroke="#111" stroke-width="1.5" transform="rotate(-20 355 734)"/>
  <ellipse cx="354" cy="735" rx="3.5" ry="5.5" fill="#fff" transform="rotate(-20 354 735)"/>
  <path class="l" style="stroke:#555;stroke-width:1.8" d="M356,739.7 L356,771.3 M327,680 L327,734"/>
  <!-- flange -->
  <path d="M237.5,763 L247,755.5 L282,774 L282,811 L274,819 L238,800.5 Z" fill="#fff" stroke="#111" stroke-width="2.3" stroke-linejoin="round"/>
  <path class="t" style="stroke:#333" d="M237.5,763 L274,781 L274,819 M274,781 L282,774"/>
  <path d="M244,760 L278,778" stroke="#666" stroke-width="2.2" stroke-dasharray="1.2 1.6"/>
  <ellipse cx="256.2" cy="789.8" rx="11.6" ry="15" fill="#fafafa" stroke="#111" stroke-width="1.8" transform="rotate(-15 256.2 789.8)"/>
  <ellipse cx="257.5" cy="789.8" rx="9.5" ry="13" fill="none" stroke="#aaa" stroke-width="1" transform="rotate(-15 257.5 789.8)"/>
  <g fill="#fff" stroke="#222" stroke-width="1.4">
    <ellipse cx="242" cy="767.4" rx="2.3" ry="2.8"/><ellipse cx="268.5" cy="780.5" rx="2.3" ry="2.8"/>
    <ellipse cx="268.6" cy="812.2" rx="2.3" ry="2.8"/>
  </g>
  <!-- rings -->
  <ellipse cx="239.5" cy="801.4" rx="10.5" ry="13" fill="#fff" stroke="#111" stroke-width="2.2" transform="rotate(-20 239.5 801.4)"/>
  <ellipse cx="239" cy="802" rx="5.5" ry="8" fill="#444" stroke="#111" stroke-width="1.6" transform="rotate(-20 239 802)"/>
  <ellipse cx="238.5" cy="802.5" rx="3" ry="5" fill="#fff" transform="rotate(-20 238.5 802.5)"/>
  <path d="M220,804 L228,799 L236,810 L228,818 Z" fill="#fff"/>
  <ellipse cx="226" cy="809.5" rx="8" ry="11" fill="#fff" stroke="#111" stroke-width="2.2" transform="rotate(-20 226 809.5)"/>
  <ellipse cx="226" cy="810" rx="4" ry="6" fill="#fff" stroke="#111" stroke-width="1.8" transform="rotate(-20 226 810)"/>
  <!-- coupling -->
  <g transform="translate(174,838) rotate(-30)">
    <path d="M0,-16.5 L44,-16.5 Q54,-16.5 54,0 Q54,16.5 44,16.5 L0,16.5 Z" fill="#fff" stroke="#111" stroke-width="2.2"/>
    <rect x="12" y="-15.5" width="24" height="31" fill="#2a2a2a"/>
    <rect x="12" y="-15.5" width="24" height="31" fill="url(#knurl)" opacity="0.12"/>
    <path d="M36,-15.5 Q30,0 36,15.5" fill="#fff" stroke="none"/>
    <ellipse cx="44" cy="-3" rx="2.2" ry="3" fill="#fff" stroke="#111" stroke-width="1.6"/>
    <ellipse cx="0" cy="0" rx="10" ry="16.5" fill="#fff" stroke="#111" stroke-width="2.2"/>
    <ellipse cx="-1" cy="2" rx="5" ry="8" fill="#fff" stroke="#111" stroke-width="2"/>
    <path d="M7,-10 Q10,-6 8,-3" fill="none" stroke="#111" stroke-width="1.6"/>
  </g>
  <!-- motor shaft link -->
  <path d="M150,845 L162,838 L166,846 L154,853 Z" fill="#fff" stroke="#111" stroke-width="2"/>
  <!-- motor -->
  <path d="M66.5,861 L82.3,853.1 L86,853.8 L114,834.4 L128.3,825.8 L155.7,843 L161.4,850.2 L161.4,885.5 L148.5,893.4 L114,907 L114,909.9 L101,918.5 L66.5,899.8 Z" fill="#fff" stroke="#111" stroke-width="2.3" stroke-linejoin="round"/>
  <path class="o" style="fill:none" d="M82.3,853.1 L105.3,866 L112.5,872.5 L114,909.9 M86,853.8 L114,834.4"/>
  <path class="t" style="stroke:#333" d="M115.4,868.2 L147,850 M116,874 L148.5,855.5"/><path d="M117,834 Q138,838 146,850 Q150,860 149.9,881 L147,892.7" fill="none" stroke="#111" stroke-width="2.2"/><path d="M120,832 Q141,836 150,848" fill="none" stroke="#777" stroke-width="1.2"/>
  <path d="M114,834.4 L122,829 L128.3,825.8" fill="none" stroke="#111" stroke-width="2.3"/>
  <g fill="#fff" stroke="#222" stroke-width="1.6">
    <ellipse cx="75.1" cy="866.8" rx="2.5" ry="3.2"/><ellipse cx="101" cy="876.8" rx="2.5" ry="3.2"/>
    <ellipse cx="99.6" cy="910" rx="2.5" ry="3.2"/>
  </g>
  <path class="t" d="M96,872 L105,877 L105,890 L97,885 Z M94,906 L104,912"/>
  <path d="M69.4,889 L84,881 Q90,885 87,893 L72.5,902" fill="#fff" stroke="#111" stroke-width="2.2"/>
  <ellipse cx="69.4" cy="896" rx="3.8" ry="6.2" fill="#fff" stroke="#111" stroke-width="2.2" transform="rotate(-25 69.4 896)"/>
  <!-- bottom leaders -->
  <path class="l" style="stroke:#555;stroke-width:1.6" d="M133.8,876 L133.8,963 M189.6,834 L189.6,966 M226.2,813 L226.2,963 M247.6,806 L247.6,963 M273.6,813 L273.6,963 M297,797 L297,963 M320.5,785 L320.5,963"/>
</g>
</svg>
</body></html>
